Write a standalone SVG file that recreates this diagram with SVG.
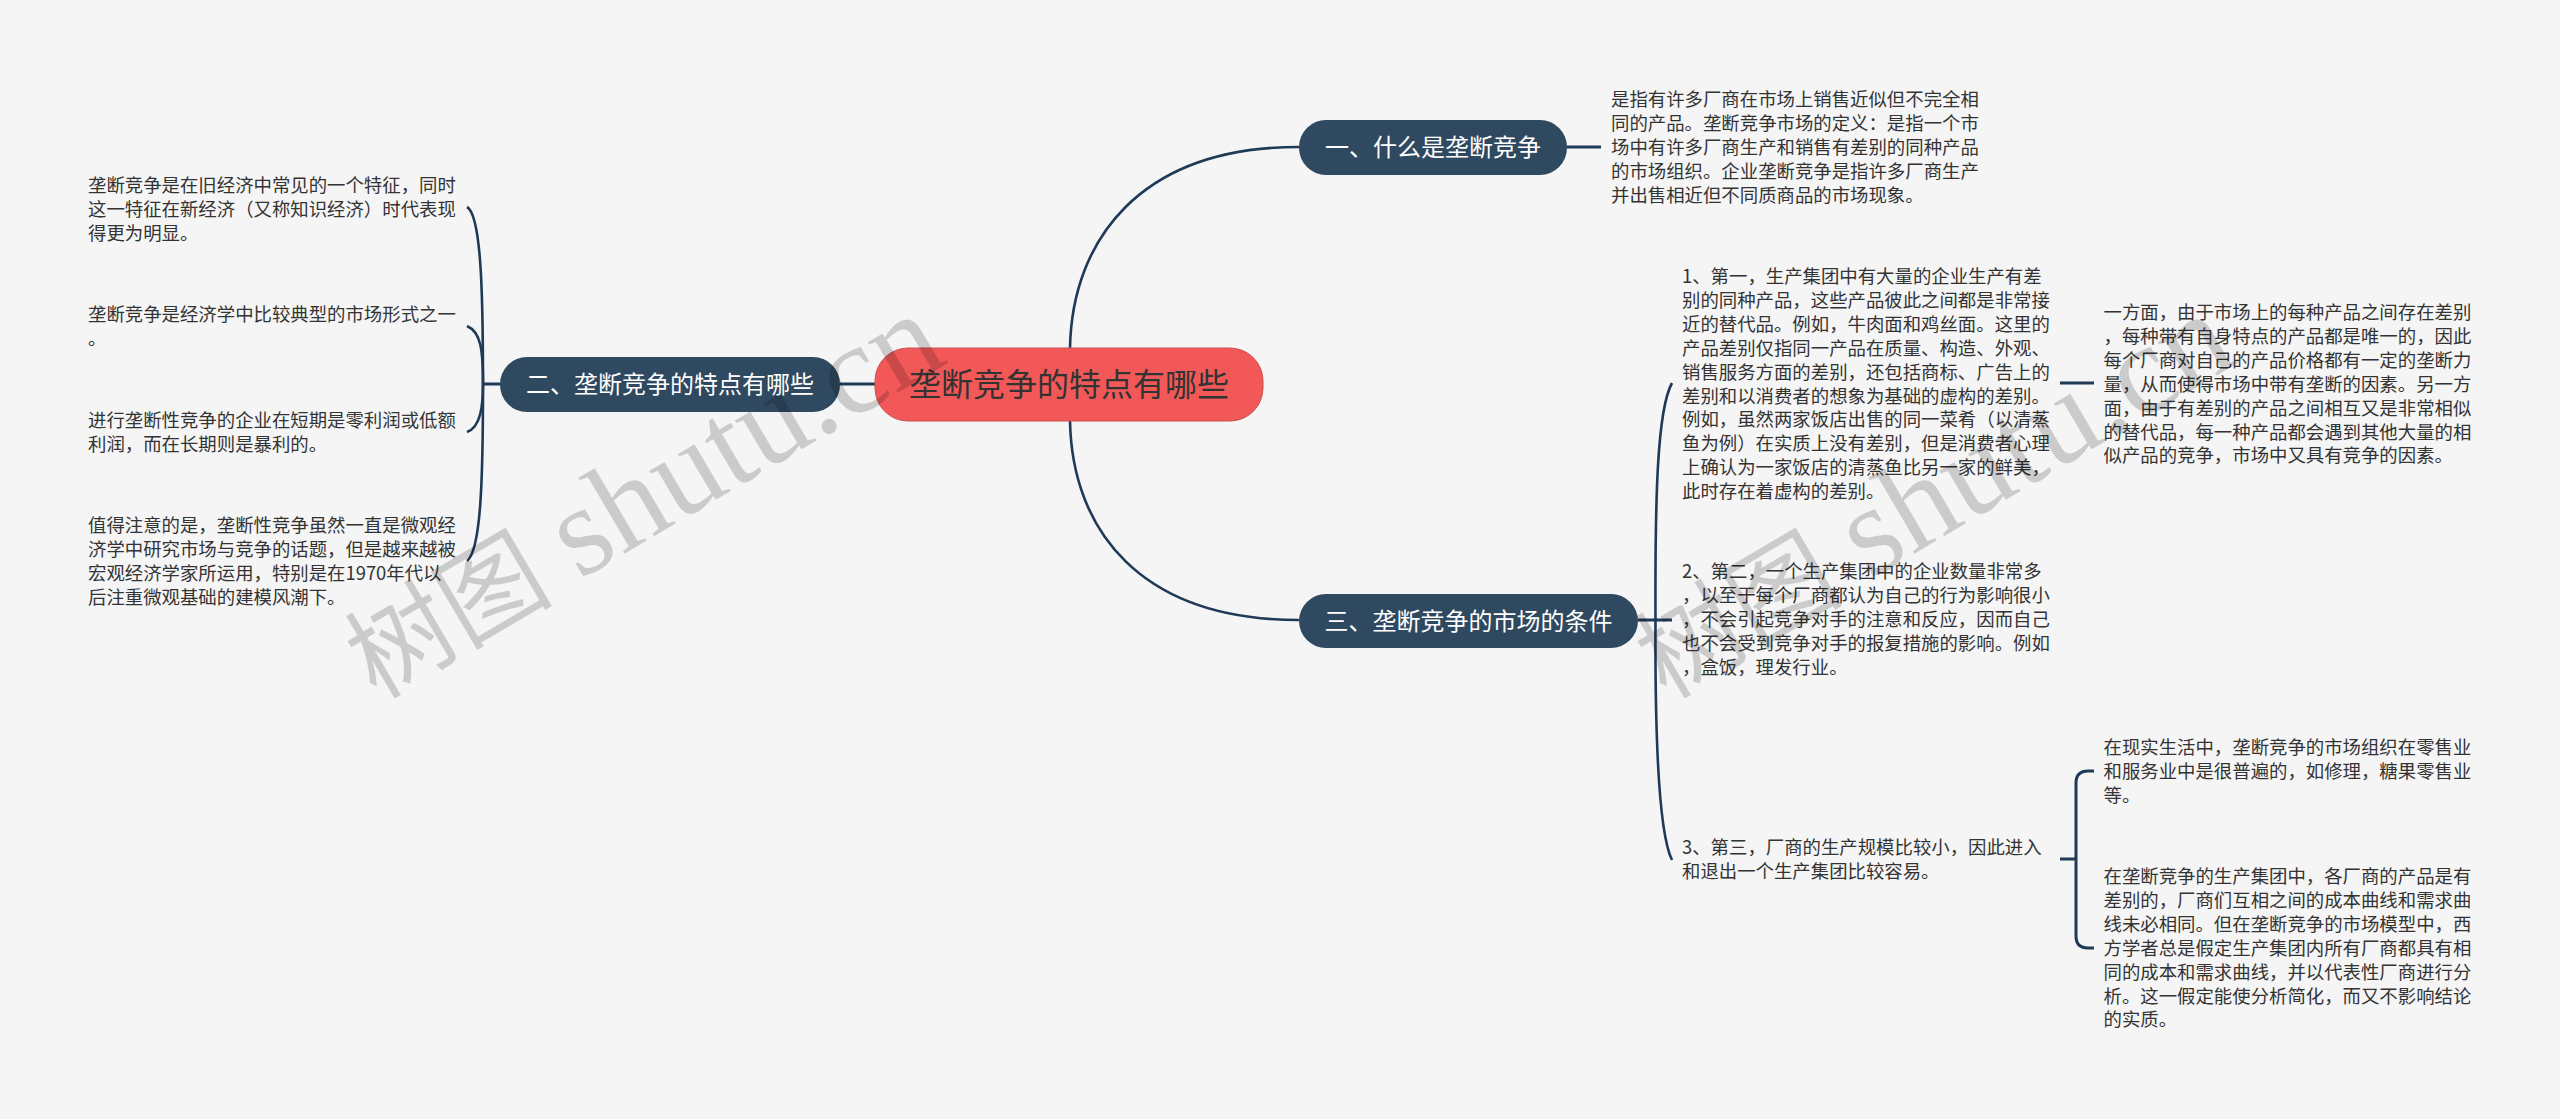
<svg xmlns="http://www.w3.org/2000/svg" width="2560" height="1119" viewBox="0 0 2560 1119">
<style>
text{font-family:"Noto Sans CJK SC","Liberation Sans",sans-serif}
.t{font-size:18.4px;fill:#333}
.n{fill:#2f4960}
.nt{font-size:24px;fill:#fff;text-anchor:middle}
.c{fill:none;stroke:#1f3a56;stroke-width:2.6}
.s{fill:none;stroke:#1f3a56;stroke-width:3}
.wm{font-family:"Liberation Serif","Noto Sans CJK SC",serif;font-size:128px;fill:#000;fill-opacity:.17}
.wc{font-size:104px}
</style>
<rect width="2560" height="1119" fill="#f5f5f5"/>
<g id="connectors">
<path class="c" d="M1070 348C1072 240 1140 147 1299 147"/>
<path class="c" d="M1070 421C1072 530 1140 620 1299 620"/>
<path class="s" d="M840 384H875"/>
<path class="s" d="M1567 147H1601"/>
<path class="s" d="M483 384H500"/>
<path class="c" d="M483 384C483 290 481 215 467 207"/>
<path class="c" d="M483 384C483 350 481 332 467 326"/>
<path class="c" d="M483 384C483 405 481 427 467 432"/>
<path class="c" d="M483 384C483 480 481 550 467 561"/>
<path class="s" d="M1638 620H1672"/>
<path class="c" d="M1655.5 620C1655 500 1657 410 1672 383"/>
<path class="c" d="M1655.5 620C1655 720 1657 830 1672 860"/>
<path class="s" d="M2060 383H2094"/>
<path class="s" d="M2060 859H2076"/>
<path class="s" d="M2094 771H2088Q2076 771 2076 783V936Q2076 948 2088 948H2094"/>
</g>
<g id="root"><rect x="875" y="348" width="388" height="73" rx="33" fill="#f25858" stroke="#c94f4f" stroke-width="1"/><text x="1069" y="396" font-size="32" fill="#333" text-anchor="middle">垄断竞争的特点有哪些</text></g>
<g id="node-1"><rect class="n" x="1299" y="120" width="268" height="55" rx="27"/><text class="nt" x="1433" y="156">一、什么是垄断竞争</text></g>
<g id="node-2"><rect class="n" x="500" y="357" width="340" height="55" rx="27"/><text class="nt" x="670" y="393">二、垄断竞争的特点有哪些</text></g>
<g id="node-3"><rect class="n" x="1299" y="594" width="339" height="54" rx="27"/><text class="nt" x="1468.500" y="630">三、垄断竞争的市场的条件</text></g>
<g id="text-1"><text class="t"><tspan x="1611" y="106">是指有许多厂商在市场上销售近似但不完全相</tspan><tspan x="1611" dy="23.900">同的产品。垄断竞争市场的定义：是指一个市</tspan><tspan x="1611" dy="23.900">场中有许多厂商生产和销售有差别的同种产品</tspan><tspan x="1611" dy="23.900">的市场组织。企业垄断竞争是指许多厂商生产</tspan><tspan x="1611" dy="23.900">并出售相近但不同质商品的市场现象。</tspan></text></g>
<g id="left-1"><text class="t"><tspan x="88" y="192">垄断竞争是在旧经济中常见的一个特征，同时</tspan><tspan x="88" dy="23.900">这一特征在新经济（又称知识经济）时代表现</tspan><tspan x="88" dy="23.900">得更为明显。</tspan></text></g>
<g id="left-2"><text class="t"><tspan x="88" y="321">垄断竞争是经济学中比较典型的市场形式之一</tspan><tspan x="88" dy="23.900">。</tspan></text></g>
<g id="left-3"><text class="t"><tspan x="88" y="427">进行垄断性竞争的企业在短期是零利润或低额</tspan><tspan x="88" dy="23.900">利润，而在长期则是暴利的。</tspan></text></g>
<g id="left-4"><text class="t"><tspan x="88" y="532">值得注意的是，垄断性竞争虽然一直是微观经</tspan><tspan x="88" dy="23.900">济学中研究市场与竞争的话题，但是越来越被</tspan><tspan x="88" dy="23.900">宏观经济学家所运用，特别是在1970年代以</tspan><tspan x="88" dy="23.900">后注重微观基础的建模风潮下。</tspan></text></g>
<g id="cond-1"><text class="t"><tspan x="1682" y="283">1、第一，生产集团中有大量的企业生产有差</tspan><tspan x="1682" dy="23.900">别的同种产品，这些产品彼此之间都是非常接</tspan><tspan x="1682" dy="23.900">近的替代品。例如，牛肉面和鸡丝面。这里的</tspan><tspan x="1682" dy="23.900">产品差别仅指同一产品在质量、构造、外观、</tspan><tspan x="1682" dy="23.900">销售服务方面的差别，还包括商标、广告上的</tspan><tspan x="1682" dy="23.900">差别和以消费者的想象为基础的虚构的差别。</tspan><tspan x="1682" dy="23.900">例如，虽然两家饭店出售的同一菜肴（以清蒸</tspan><tspan x="1682" dy="23.900">鱼为例）在实质上没有差别，但是消费者心理</tspan><tspan x="1682" dy="23.900">上确认为一家饭店的清蒸鱼比另一家的鲜美，</tspan><tspan x="1682" dy="23.900">此时存在着虚构的差别。</tspan></text></g>
<g id="cond-1-1"><text class="t"><tspan x="2103.500" y="319">一方面，由于市场上的每种产品之间存在差别</tspan><tspan x="2103.500" dy="23.900">，每种带有自身特点的产品都是唯一的，因此</tspan><tspan x="2103.500" dy="23.900">每个厂商对自己的产品价格都有一定的垄断力</tspan><tspan x="2103.500" dy="23.900">量，从而使得市场中带有垄断的因素。另一方</tspan><tspan x="2103.500" dy="23.900">面，由于有差别的产品之间相互又是非常相似</tspan><tspan x="2103.500" dy="23.900">的替代品，每一种产品都会遇到其他大量的相</tspan><tspan x="2103.500" dy="23.900">似产品的竞争，市场中又具有竞争的因素。</tspan></text></g>
<g id="cond-2"><text class="t"><tspan x="1682" y="578">2、第二，一个生产集团中的企业数量非常多</tspan><tspan x="1682" dy="23.900">，以至于每个厂商都认为自己的行为影响很小</tspan><tspan x="1682" dy="23.900">，不会引起竞争对手的注意和反应，因而自己</tspan><tspan x="1682" dy="23.900">也不会受到竞争对手的报复措施的影响。例如</tspan><tspan x="1682" dy="23.900">，盒饭，理发行业。</tspan></text></g>
<g id="cond-3"><text class="t"><tspan x="1682" y="854">3、第三，厂商的生产规模比较小，因此进入</tspan><tspan x="1682" dy="23.900">和退出一个生产集团比较容易。</tspan></text></g>
<g id="cond-3-1"><text class="t"><tspan x="2103.500" y="754">在现实生活中，垄断竞争的市场组织在零售业</tspan><tspan x="2103.500" dy="23.900">和服务业中是很普遍的，如修理，糖果零售业</tspan><tspan x="2103.500" dy="23.900">等。</tspan></text></g>
<g id="cond-3-2"><text class="t"><tspan x="2103.500" y="883">在垄断竞争的生产集团中，各厂商的产品是有</tspan><tspan x="2103.500" dy="23.900">差别的，厂商们互相之间的成本曲线和需求曲</tspan><tspan x="2103.500" dy="23.900">线未必相同。但在垄断竞争的市场模型中，西</tspan><tspan x="2103.500" dy="23.900">方学者总是假定生产集团内所有厂商都具有相</tspan><tspan x="2103.500" dy="23.900">同的成本和需求曲线，并以代表性厂商进行分</tspan><tspan x="2103.500" dy="23.900">析。这一假定能使分析简化，而又不影响结论</tspan><tspan x="2103.500" dy="23.900">的实质。</tspan></text></g>
<g id="watermarks">
<text class="wm" transform="translate(376 700) rotate(-30.500)"><tspan class="wc">树图</tspan><tspan dx="-4"> shutu.cn</tspan></text>
<text class="wm" transform="translate(1666 700) rotate(-30.500)"><tspan class="wc">树图</tspan><tspan dx="-4"> shutu.cn</tspan></text>
</g>
</svg>
